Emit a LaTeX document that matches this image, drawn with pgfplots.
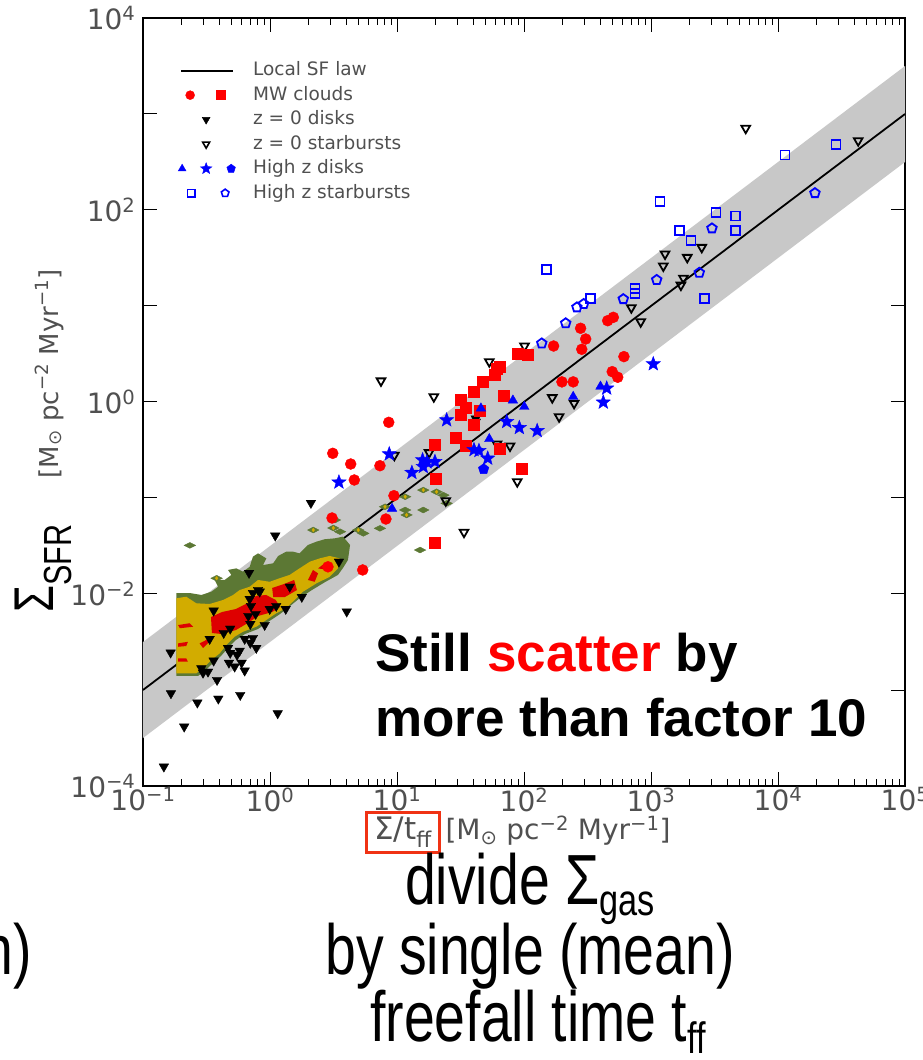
\documentclass[border=0pt]{standalone}
\usepackage{fontspec}
\usepackage{pgfplots}
\pgfplotsset{compat=1.18}
\usetikzlibrary{plotmarks}
\setmainfont{DejaVu Sans}
\newfontfamily\arialfont{Liberation Sans}
\newfontfamily\narrowfont[FakeStretch=0.78]{Liberation Sans}
\definecolor{tickgray}{RGB}{80,80,80}
\definecolor{bandgray}{RGB}{200,200,200}
\definecolor{cgold}{RGB}{210,172,0}
\definecolor{colive}{RGB}{92,120,52}
\definecolor{cred}{RGB}{222,0,0}
\definecolor{boxred}{RGB}{240,50,20}
\pgfdeclareplotmark{fstar}{%
\pgfpathmoveto{\pgfpointpolar{90}{\pgfplotmarksize}}%
\pgfpathlineto{\pgfpointpolar{126}{0.42*\pgfplotmarksize}}%
\pgfpathlineto{\pgfpointpolar{162}{\pgfplotmarksize}}%
\pgfpathlineto{\pgfpointpolar{198}{0.42*\pgfplotmarksize}}%
\pgfpathlineto{\pgfpointpolar{234}{\pgfplotmarksize}}%
\pgfpathlineto{\pgfpointpolar{270}{0.42*\pgfplotmarksize}}%
\pgfpathlineto{\pgfpointpolar{306}{\pgfplotmarksize}}%
\pgfpathlineto{\pgfpointpolar{342}{0.42*\pgfplotmarksize}}%
\pgfpathlineto{\pgfpointpolar{18}{\pgfplotmarksize}}%
\pgfpathlineto{\pgfpointpolar{54}{0.42*\pgfplotmarksize}}%
\pgfpathclose
\pgfusepathqfillstroke}
\begin{document}
\begin{tikzpicture}
\useasboundingbox (0pt,0pt) rectangle (923pt,1060pt);
\begin{axis}[
  at={(143pt,274pt)}, anchor=south west, scale only axis,
  width=762pt, height=768pt,
  xmode=log, ymode=log,
  xmin=0.1, xmax=1e5, ymin=1e-4, ymax=1e4,
  axis line style={line width=1.2pt, black},
  every tick/.style={black, line width=1pt},
  major tick length=14pt, minor tick length=7pt,
  tick align=inside,
  xtick={0.1,1,10,100,1000,10000,100000},
  xticklabels={10\textsuperscript{−1},10\textsuperscript{0},10\textsuperscript{1},10\textsuperscript{2},10\textsuperscript{3},10\textsuperscript{4},10\textsuperscript{5}},
  ytick={1e-4,1e-3,0.01,0.1,1,10,100,1000,1e4},
  yticklabels={10\textsuperscript{−4},,10\textsuperscript{−2},,10\textsuperscript{0},,10\textsuperscript{2},,10\textsuperscript{4}},
  yminorticks=false,
  ticklabel style={font=\fontsize{28}{28}\selectfont, text=tickgray},
  xticklabel style={yshift=2pt},
  yticklabel style={xshift=-4pt},
  legend style={draw=none, fill=none, at={(0.046,0.946)}, anchor=north west,
    font=\fontsize{18.5}{20}\selectfont, text=tickgray, inner sep=0pt, row sep=2.5pt,
    nodes={inner sep=2pt, text height=14pt, text depth=4pt}},
  legend cell align=left,
]
\addlegendimage{legend image code/.code={\draw[black,line width=1.8pt] (0pt,0pt)--(52pt,0pt); \path[draw=none] (0pt,0pt)--(70pt,0pt);}}
\addlegendentry{Local SF law}
\addlegendimage{legend image code/.code={\draw[red,fill=red] plot[mark=*,mark size=4.5pt] coordinates{(9pt,0pt)}; \draw[red,fill=red] plot[mark=square*,mark size=4.5pt] coordinates{(40pt,0pt)}; \path[draw=none] (0pt,0pt)--(70pt,0pt);}}
\addlegendentry{MW clouds}
\addlegendimage{legend image code/.code={\draw[black,fill=black] plot[mark=triangle*,mark size=4.5pt,mark options={rotate=180}] coordinates{(25pt,0pt)}; \path[draw=none] (0pt,0pt)--(70pt,0pt);}}
\addlegendentry{z = 0 disks}
\addlegendimage{legend image code/.code={\draw[black,fill=white,line width=1.6pt] plot[mark=triangle,mark size=4pt,mark options={rotate=180}] coordinates{(25pt,0pt)}; \path[draw=none] (0pt,0pt)--(70pt,0pt);}}
\addlegendentry{z = 0 starbursts}
\addlegendimage{legend image code/.code={\draw[blue,fill=blue] plot[mark=triangle*,mark size=4.5pt] coordinates{(1pt,0pt)}; \draw[blue,fill=blue] plot[mark=fstar,mark size=6pt] coordinates{(25pt,0pt)}; \draw[blue,fill=blue] plot[mark=pentagon*,mark size=4.5pt] coordinates{(50pt,0pt)}; \path[draw=none] (0pt,0pt)--(70pt,0pt);}}
\addlegendentry{High z disks}
\addlegendimage{legend image code/.code={\draw[blue,fill=white,line width=1.6pt] plot[mark=square,mark size=3.8pt] coordinates{(10pt,0pt)}; \draw[blue,fill=white,line width=1.6pt] plot[mark=pentagon,mark size=4pt] coordinates{(44pt,0pt)}; \path[draw=none] (0pt,0pt)--(70pt,0pt);}}
\addlegendentry{High z starbursts}

% scatter band of the local law (factor ~3.16 each way)
\addplot[fill=bandgray, draw=none, forget plot] coordinates {(0.1,3.16e-3) (1e5,3.16e3) (1e5,316) (0.1,3.16e-4)} -- cycle;
% local SF law
\addplot[black, line width=1.8pt, forget plot] coordinates {(0.1,1e-3) (1e5,1e3)};

% THINGS pixel contours: outer (olive), inner (gold), core (red)
\addplot[fill=colive, draw=none, forget plot] coordinates {
(0.183,0.01023) (0.234,0.01023) (0.288,0.00977) (0.345,0.01057) (0.39,0.0119) (0.367,0.0140)
(0.44,0.0140) (0.496,0.0158) (0.467,0.0178) (0.543,0.0185) (0.612,0.0171) (0.692,0.0192)
(0.734,0.0245) (0.805,0.0265) (0.936,0.0235) (0.881,0.02) (1.06,0.0209) (1.16,0.0249)
(1.34,0.0276) (1.52,0.0276) (1.71,0.0265) (1.99,0.0324) (2.32,0.0351) (2.70,0.0372)
(3.23,0.038) (3.76,0.0396) (4.27,0.0324) (4.11,0.0226) (3.76,0.0187) (3.43,0.0158)
(2.71,0.0133) (2.14,0.0110) (1.72,0.00908) (1.44,0.0075) (1.20,0.00619) (0.964,0.00511)
(0.805,0.00432) (0.636,0.00383) (0.54,0.00332) (0.467,0.00274) (0.411,0.00226) (0.356,0.00191)
(0.313,0.00162) (0.271,0.0014) (0.183,0.0014)} -- cycle;
\addplot[fill=cgold, draw=none, forget plot] coordinates {
(0.183,0.00902) (0.219,0.00937) (0.263,0.0080) (0.335,0.00787) (0.427,0.00866) (0.512,0.00977)
(0.577,0.0110) (0.692,0.0119) (0.805,0.0140) (0.995,0.0134) (1.19,0.0146) (1.43,0.0158)
(1.71,0.0185) (2.06,0.0217) (2.46,0.0235) (2.95,0.0249) (3.54,0.0235) (3.43,0.0185)
(2.95,0.0151) (2.32,0.0129) (1.82,0.01057) (1.56,0.00866) (1.34,0.0071) (1.12,0.0063)
(0.936,0.00536) (0.78,0.00456) (0.612,0.00404) (0.527,0.00359) (0.453,0.00294) (0.402,0.00241)
(0.345,0.00205) (0.306,0.00175) (0.263,0.00149) (0.183,0.00149)} -- cycle;
\addplot[fill=cred, draw=none, forget plot] coordinates {
(0.343,0.00575) (0.419,0.00649) (0.54,0.00698) (0.671,0.00806) (0.776,0.00953) (0.931,0.00977)
(1.11,0.00866) (1.20,0.00732) (1.04,0.00649) (0.805,0.0059) (0.671,0.00499) (0.54,0.00422)
(0.419,0.00383) (0.349,0.00392)} -- cycle;
\addplot[fill=cred, draw=none, forget plot] coordinates {
(1.04,0.01155) (1.29,0.0127) (1.55,0.0140) (1.63,0.0110) (1.31,0.0093) (1.06,0.0093)} -- cycle;
\addplot[fill=cred, draw=none, forget plot] coordinates {
(1.99,0.014) (2.18,0.0178) (2.39,0.0164) (2.25,0.0134)} -- cycle;
\addplot[fill=cred, draw=none, forget plot] coordinates {
(2.39,0.0185) (2.70,0.0209) (3.04,0.0209) (2.86,0.0178)} -- cycle;
\addplot[fill=cred, draw=none, forget plot] coordinates {
(0.189,0.00475) (0.233,0.00496) (0.248,0.00456) (0.195,0.0044)} -- cycle;
\addplot[fill=cred, draw=none, forget plot] coordinates {
(0.189,0.00306) (0.226,0.00318) (0.219,0.00287) (0.189,0.00282)} -- cycle;
\addplot[fill=cred, draw=none, forget plot] coordinates {
(0.189,0.00214) (0.219,0.00214) (0.226,0.00197) (0.189,0.00197)} -- cycle;
\addplot[fill=cred, draw=none, forget plot] coordinates {
(0.279,0.00306) (0.335,0.00346) (0.345,0.00332) (0.297,0.00274)} -- cycle;
% isolated contour islands
\addplot[only marks, mark=diamond*, mark size=4.5pt, colive, mark options={fill=colive, draw=colive, xscale=1.7, yscale=0.65}, forget plot] coordinates {
(2.19,0.0464) (3.15,0.0487) (4.95,0.0464) (3.25,0.059) (7.34,0.0483) (11.6,0.103) (11.6,0.075)
(16.1,0.121) (20.5,0.116) (23.2,0.107) (24.6,0.088) (8.05,0.081) (5.43,0.0428) (11.9,0.0666)
(16.1,0.075) (15.2,0.0287) (0.234,0.0321) (0.38,0.0146) (3.56,0.0446)};
\addplot[only marks, mark=diamond*, mark size=1.8pt, cgold, mark options={fill=cgold, draw=cgold}, forget plot] coordinates {
(2.19,0.0464) (3.15,0.0487) (4.95,0.0464) (11.6,0.103) (16.1,0.121) (20.5,0.116) (8.05,0.081) (11.9,0.0666) (0.38,0.0146)};

% z = 0 disks
\addplot[only marks, mark=triangle*, mark size=5.5pt, black, mark options={fill=black, rotate=180}, forget plot] coordinates {
(2.10,0.0887) (1.10,0.0405) (0.684,0.01655) (0.805,0.0110) (0.734,0.01023) (0.83,0.01057)
(0.360,0.00670) (0.692,0.00887) (0.708,0.00750) (1.43,0.0119) (1.78,0.00931) (1.12,0.0075)
(0.995,0.00698) (1.33,0.00698) (0.771,0.00619) (0.675,0.0059) (0.70,0.00487) (0.908,0.00475)
(0.486,0.00435) (0.432,0.00392) (0.335,0.0034) (0.734,0.00348) (0.632,0.0034) (0.70,0.00309)
(0.78,0.00274) (0.467,0.00274) (0.577,0.00256) (0.486,0.00243) (0.55,0.00232) (0.36,0.00202)
(0.475,0.00192) (0.527,0.00175) (0.598,0.00192) (0.288,0.00168) (0.325,0.00155) (0.297,0.00151)
(0.632,0.00159) (0.165,0.00245) (0.383,0.00127) (0.166,0.000923) (0.268,0.000738) (0.392,0.000811)
(0.583,0.000887) (1.15,0.000571) (0.211,0.000415) (0.146,0.000159) (3.49,0.0217) (4.02,0.00655)
(41.7,0.67) (41.7,0.62)};
% z = 0 starbursts
\addplot[only marks, mark=triangle, mark size=5pt, black, line width=1.8pt, mark options={fill=white, rotate=180}, forget plot] coordinates {
(7.48,1.66) (19.5,1.135) (9.53,0.279) (17.9,0.297) (24.2,0.0937) (33.7,0.044) (53.3,2.63)
(61.3,0.365) (101,3.83) (167,1.11) (189,0.703) (248,0.968) (77.6,0.348) (700,9.6) (830,6.85)
(88.5,0.148) (5570,710) (42800,527) (1290,34.8) (1250,26.1) (1930,32.1) (2510,40.8) (1800,19.5) (1720,16.5)};
% MW clouds: circles
\addplot[only marks, mark=*, mark size=5.5pt, red, mark options={fill=red, draw=red}, forget plot] coordinates {
(8.61,0.614) (3.12,0.292) (4.32,0.226) (7.34,0.217) (4.61,0.154) (9.46,0.1057) (3.08,0.0619)
(8.18,0.0604) (171,3.83) (279,5.86) (306,4.53) (285,3.54) (456,7.03) (505,7.62) (612,2.97)
(495,2.07) (547,1.81) (199,1.62) (244,1.62) (2.86,0.0192) (5.37,0.0178)};
% MW clouds: squares
\addplot[only marks, mark=square*, mark size=5.5pt, red, mark options={fill=red, draw=red}, forget plot] coordinates {
(19.8,0.362) (20.3,0.159) (19.7,0.0346) (28.8,0.428) (34.5,0.348) (31.5,0.733) (34.5,0.873)
(31.5,1.05) (39.9,1.27) (47.0,1.62) (58.4,1.91) (39.9,0.575) (45.1,0.811) (64.0,2.33) (61.5,2.2)
(68.8,1.155) (89.2,3.21) (107,3.09) (64.7,0.33) (95.9,0.204)};
% High z disks
\addplot[only marks, mark=triangle*, mark size=5.5pt, blue, mark options={fill=blue, draw=blue}, forget plot] coordinates {
(45.8,0.859) (53.3,0.412) (9.14,0.0774) (81.8,1.04) (100.5,0.893) (244,1.135) (400,1.45)};
\addplot[only marks, mark=fstar, mark size=7.5pt, blue, mark options={fill=blue, draw=blue}, forget plot] coordinates {
(24.6,0.649) (8.69,0.287) (3.49,0.146) (13.1,0.184) (15.9,0.249) (16.1,0.212) (19.9,0.239)
(17.2,0.237) (40.4,0.318) (44.2,0.311) (51.8,0.259) (73.1,0.624) (91.9,0.54) (127,0.502)
(448,1.39) (421,0.993) (1042,2.49)};
\addplot[only marks, mark=pentagon*, mark size=5.5pt, blue, mark options={fill=blue, draw=blue}, forget plot] coordinates {
(48.1,0.2)};
% High z starbursts
\addplot[only marks, mark=square, mark size=4.5pt, blue, line width=1.8pt, mark options={fill=white}, forget plot] coordinates {
(1178,122) (1671,60.8) (2065,47.9) (3250,94.6) (4610,86.6) (4610,60.8) (2630,12.0) (11350,374)
(28600,483) (748,15.3) (748,13.5) (150,23.9) (335,12.0)};
\addplot[only marks, mark=pentagon, mark size=5pt, blue, line width=1.8pt, mark options={fill=white}, forget plot] coordinates {
(138,4.08) (213,6.61) (261,9.68) (295,10.5) (605,11.8) (1109,18.7) (2400,22.2) (3020,64.4) (19540,150)};
\end{axis}

% annotation inside the plot
\node[anchor=base west, inner sep=0pt, font=\arialfont\bfseries\fontsize{53}{60}\selectfont] at (375pt,388pt) {Still \textcolor{red}{scatter} by};
\node[anchor=base west, inner sep=0pt, font=\arialfont\bfseries\fontsize{53}{60}\selectfont] at (375pt,323pt) {more than factor 10};

% y label
\node[rotate=90, anchor=base west, inner sep=0pt] at (53pt,447pt) {{\narrowfont\fontsize{56}{60}\selectfont Σ\textsubscript{SFR}}\hspace{46pt}\raisebox{-5pt}{\color{tickgray}\fontsize{26}{27}\selectfont [M\textsubscript{⊙} pc\textsuperscript{−2} Myr\textsuperscript{−1}]}};

% x label with highlighted quantity
\setlength{\fboxrule}{3pt}\setlength{\fboxsep}{3pt}
\node[anchor=base west, inner sep=0pt, text=tickgray, font=\fontsize{28}{29}\selectfont] at (365pt,220pt) {\fcolorbox{boxred}{white}{\color{tickgray}\hspace{3pt}\fontsize{31}{32}\selectfont Σ/t\textsubscript{ff}\hspace{3pt}}\,[M\textsubscript{⊙} pc\textsuperscript{−2} Myr\textsuperscript{−1}]};

% slide text below
\node[anchor=base, inner sep=0pt, font=\narrowfont\fontsize{71}{80}\selectfont] at (530pt,155pt) {divide Σ\raisebox{-11pt}{\fontsize{44}{46}\selectfont gas}};
\node[anchor=base, inner sep=0pt, font=\narrowfont\fontsize{71}{80}\selectfont] at (530pt,85pt) {by single (mean)};
\node[anchor=base, inner sep=0pt, font=\narrowfont\fontsize{71}{80}\selectfont] at (538pt,19pt) {freefall time t\raisebox{-13pt}{\fontsize{44}{46}\selectfont ff}};
\node[anchor=base east, inner sep=0pt, font=\narrowfont\fontsize{71}{80}\selectfont] at (32pt,85pt) {n)};
\end{tikzpicture}
\end{document}
